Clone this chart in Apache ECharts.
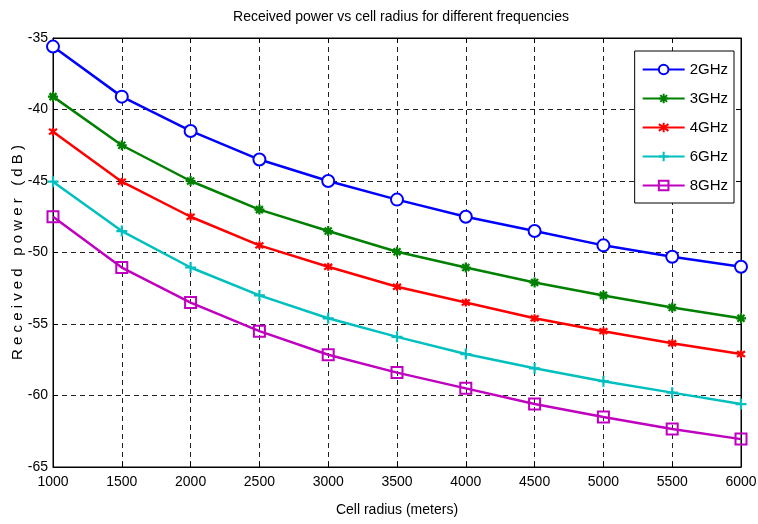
<!DOCTYPE html>
<html><head><meta charset="utf-8">
<script src="https://cdn.jsdelivr.net/npm/echarts@6/dist/echarts.min.js"></script>
<style>html,body{margin:0;padding:0;background:#fff}#c{width:758px;height:524px}</style>
</head><body><div id="c"></div>
<script>
const radius = [1000,1500,2000,2500,3000,3500,4000,4500,5000,5500,6000];
const p2GHz = [-35.6,-39.1,-41.5,-43.5,-45.0,-46.3,-47.5,-48.5,-49.5,-50.3,-51.0];
const p3GHz = [-39.1,-42.5,-45.0,-47.0,-48.5,-49.95,-51.05,-52.1,-53.0,-53.85,-54.6];
const p4GHz = [-41.55,-45.05,-47.5,-49.5,-51.0,-52.4,-53.5,-54.6,-55.5,-56.35,-57.1];
const p6GHz = [-45.05,-48.5,-51.05,-53.0,-54.6,-55.9,-57.1,-58.1,-59.0,-59.8,-60.6];
const p8GHz = [-47.5,-51.05,-53.5,-55.5,-57.15,-58.4,-59.5,-60.6,-61.5,-62.35,-63.05];
const seriesNames = ['2GHz','3GHz','4GHz','6GHz','8GHz'];
const seriesData = [p2GHz,p3GHz,p4GHz,p6GHz,p8GHz];
const colors = ['#0000ff','#008000','#ff0000','#00bfbf','#bf00bf'];
const symbols = [
  'emptyCircle',
  'path://M5,0 L5,10 M0,5 L10,5 M1.5,1.5 L8.5,8.5 M8.5,1.5 L1.5,8.5',
  'path://M5,0 L5,10 M1.5,1.5 L8.5,8.5 M8.5,1.5 L1.5,8.5',
  'path://M5,0 L5,10 M0,5 L10,5',
  'rect'
];
const symSizes = [12,10,8,11,11];
const font = '"Liberation Sans", Arial, sans-serif';

const chart = echarts.init(document.getElementById('c'));
const series = seriesNames.map((n,i)=>({
  name:n, type:'line',
  data: radius.map((r,j)=>[r, seriesData[i][j]]),
  symbol: symbols[i], symbolSize: symSizes[i],
  showAllSymbol:true,
  lineStyle:{color:colors[i], width:2.5},
  itemStyle:{color: (i===4? 'rgba(255,255,255,0)' : colors[i]), borderColor:colors[i], borderWidth: (i===0||i===4)?2:2.2},
  emphasis:{disabled:true},
  z: 5-i
}));
const axisCommon = {
  axisLine:{show:true, lineStyle:{color:'#000', width:1}},
  axisTick:{show:true, inside:true, length:5, lineStyle:{color:'#000'}},
};
chart.setOption({
  animation:false,
  color: colors,
  title:{text:'Received power vs cell radius for different frequencies', left:396, top:5, textAlign:'center',
    textStyle:{fontFamily:font, fontSize:14, fontWeight:'normal', color:'#000'}},
  grid:{left:53, right:17, top:38, bottom:57, show:true, borderColor:'#000', borderWidth:1, outerBoundsMode:'none', containLabel:false},
  legend:{
    data: seriesNames, orient:'vertical', right:24, top:51,
    backgroundColor:'#fff', borderColor:'#000', borderWidth:1,
    padding:[10,6,9,7], itemGap:12, itemWidth:42, itemHeight:12,
    textStyle:{fontFamily:font, fontSize:15, color:'#000', lineHeight:17}
  },
  xAxis:[{
    type:'value', min:1000, max:6000, interval:500,
    name:'Cell radius (meters)', nameLocation:'middle', nameGap:36, nameMoveOverlap:false,
    nameTextStyle:{fontFamily:font, fontSize:14, color:'#000'},
    axisLabel:{fontFamily:font, fontSize:14, color:'#000', margin:8, formatter:v=>String(v)},
    splitLine:{show:true, lineStyle:{color:'#222', type:[5,4], width:1}},
    ...axisCommon
  },{
    type:'value', position:'top', min:1000, max:6000, interval:500,
    axisLabel:{show:false}, splitLine:{show:false}, ...axisCommon
  }],
  yAxis:[{
    type:'value', min:-65, max:-35, interval:5,
    name:'R e c e i v e d   p o w e r   ( d B )', nameLocation:'middle', nameGap:28, nameMoveOverlap:false,
    nameTextStyle:{fontFamily:font, fontSize:15, color:'#000'},
    axisLabel:{fontFamily:font, fontSize:14, color:'#000', margin:5},
    splitLine:{show:true, lineStyle:{color:'#222', type:[5,4], width:1}},
    ...axisCommon
  },{
    type:'value', position:'right', min:-65, max:-35, interval:5,
    axisLabel:{show:false}, splitLine:{show:false}, ...axisCommon
  }],
  series
});
</script></body></html>
